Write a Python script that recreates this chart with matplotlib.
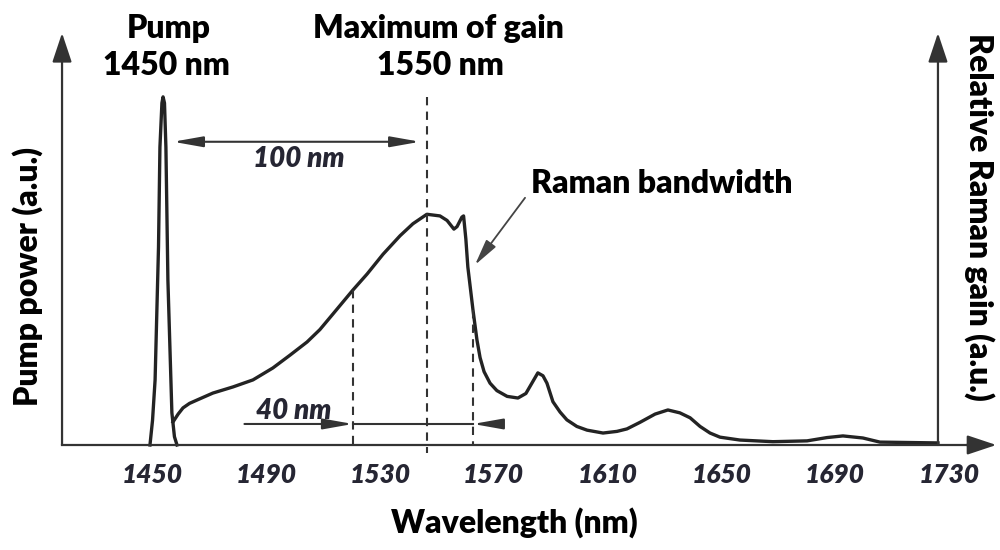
import matplotlib
matplotlib.use("Agg")
import matplotlib.pyplot as plt
from matplotlib.transforms import ScaledTranslation

# ---------------- data ----------------
pump_wl = [1453.1, 1454.0, 1454.9, 1456.1, 1456.6, 1457.3, 1457.7, 1458.2, 1458.7,
           1459.4, 1460.8, 1461.7, 1462.6]
pump_pw = [0.0, 0.060, 0.158, 0.481, 0.723, 0.830, 0.845, 0.830, 0.723,
           0.400, 0.078, 0.020, 0.0]

gain_wl = [1461.2, 1463.0, 1464.7, 1467.0, 1469.6, 1475.2, 1482.3, 1489.3, 1496.3,
           1502.3, 1508.3, 1512.8, 1517.4, 1524.4, 1529.4, 1535.0, 1541.0, 1545.5,
           1550.4, 1555.0, 1557.5, 1559.9, 1561.0, 1562.7, 1563.3, 1564.1, 1564.8,
           1566.6, 1568.0, 1569.1, 1570.5, 1572.6, 1575.0, 1578.6, 1582.4, 1585.2,
           1587.3, 1589.4, 1591.2, 1592.6, 1594.7, 1597.2, 1599.6, 1603.1, 1606.7,
           1612.3, 1617.2, 1620.7, 1625.3, 1630.6, 1635.1, 1639.3, 1642.9, 1646.4,
           1649.9, 1653.4, 1660.4, 1672.0, 1684.0, 1691.0, 1696.6, 1703.6, 1709.6,
           1730.0]
gain_val = [0.056, 0.075, 0.090, 0.101, 0.109, 0.126, 0.141, 0.158, 0.187,
            0.218, 0.250, 0.280, 0.318, 0.376, 0.415, 0.463, 0.508, 0.537,
            0.560, 0.556, 0.545, 0.524, 0.530, 0.553, 0.556, 0.500, 0.432,
            0.328, 0.255, 0.212, 0.178, 0.150, 0.132, 0.118, 0.114, 0.125,
            0.150, 0.175, 0.168, 0.150, 0.105, 0.080, 0.061, 0.045, 0.036,
            0.029, 0.033, 0.039, 0.055, 0.075, 0.085, 0.078, 0.066, 0.045,
            0.029, 0.019, 0.012, 0.008, 0.010, 0.018, 0.022, 0.017, 0.007,
            0.005]

tick_values = [1450, 1490, 1530, 1570, 1610, 1650, 1690, 1730]
tick_labels = ["1450", "1490", "1530", "1570", "1610", "1650", "1690", "1730"]

gain_max_wl = 1550.4
bw_low, bw_high = 1524.4, 1566.6
pump_wl_mark = 1461.2

# ---------------- style ----------------
DARK = "#333333"
CURVE = "#232323"
TXT = "#262633"
plt.rcParams['font.family'] = ['Lato', 'DejaVu Sans']
BIG = 23
W = 'heavy'

fig = plt.figure(figsize=(10, 5.5), dpi=100)
ax = fig.add_axes([0, 0, 1, 1])
ax.set_xlim(1400.4, 1751.8)
ax.set_ylim(-0.2549, 1.0801)

for s in ['top', 'left', 'right']:
    ax.spines[s].set_visible(False)
ax.spines['bottom'].set_position(('data', 0))
ax.spines['bottom'].set_bounds(1422.2, 1745)
ax.spines['bottom'].set_color(DARK)
ax.spines['bottom'].set_linewidth(1.6)
ax.set_yticks([])

# ticks: labels at majors, marks at minors
ax.set_xticks(tick_values)
ax.set_xticklabels(tick_labels)
ax.set_xticks(tick_values[1:], minor=True)
ax.tick_params(axis='x', which='major', length=0, pad=13, labelsize=19,
               labelcolor=TXT)
ax.tick_params(axis='x', which='minor', direction='inout', length=11, width=2.2,
               color=CURVE)
off = ScaledTranslation(0.11, 0, fig.dpi_scale_trans)
for lab in ax.get_xticklabels():
    lab.set_fontstyle('italic')
    lab.set_fontweight('heavy')
    lab.set_transform(lab.get_transform() + off)

# axes arrows
arr = dict(arrowstyle='-|>,head_length=0.9,head_width=0.3', color=DARK, lw=1.6,
           mutation_scale=20, shrinkA=0, shrinkB=0)
ax.annotate('', xy=(1422.2, 1.0), xytext=(1422.2, 0), arrowprops=arr)
ax.annotate('', xy=(1730.0, 1.0), xytext=(1730.0, 0), arrowprops=arr)
ax.annotate('', xy=(1750.5, 0), xytext=(1740, 0), arrowprops=arr)

# curves
ax.plot(pump_wl, pump_pw, color=CURVE, lw=2.4, solid_joinstyle='round')
ax.plot(gain_wl, gain_val, color=CURVE, lw=2.4, solid_joinstyle='round')

# dashed guide lines
dash = dict(color=DARK, lw=1.5, ls=(0, (4, 3)))
ax.plot([gain_max_wl, gain_max_wl], [0.845, -0.02], **dash)
ax.plot([bw_low, bw_low], [0.376, 0.0], **dash)
ax.plot([bw_high, bw_high], [0.328, 0.0], **dash)

small_head = '-|>,head_length=0.9,head_width=0.16'
# 100 nm arrow
ax.annotate('', xy=(pump_wl_mark, 0.736), xytext=(1548.0, 0.736),
            arrowprops=dict(arrowstyle='<|-|>,head_length=0.9,head_width=0.16',
                            color=DARK, lw=1.5, mutation_scale=20,
                            shrinkA=0, shrinkB=0))
ax.text(1505.5, 0.695, '100 nm', ha='center', va='center', fontsize=20,
        style='italic', fontweight='heavy', color=TXT)

# 40 nm arrows
ax.annotate('', xy=(bw_low, 0.051), xytext=(1486.3, 0.051),
            arrowprops=dict(arrowstyle=small_head, color=DARK, lw=1.5,
                            mutation_scale=20, shrinkA=0, shrinkB=0))
ax.plot([bw_low, bw_high], [0.051, 0.051], color=DARK, lw=1.5)
ax.annotate('', xy=(bw_high, 0.051), xytext=(1574.5, 0.051),
            arrowprops=dict(arrowstyle=small_head, color=DARK, lw=1.5,
                            mutation_scale=20, shrinkA=0, shrinkB=0))
ax.text(1503.7, 0.083, '40 nm', ha='center', va='center', fontsize=20,
        style='italic', fontweight='heavy', color=TXT)

# Raman bandwidth annotation
ax.annotate('', xy=(1567.3, 0.437), xytext=(1584.9, 0.600),
            arrowprops=dict(arrowstyle='-|>,head_length=0.8,head_width=0.18',
                            color='#444444', lw=1.3, mutation_scale=20,
                            shrinkA=0, shrinkB=0))
ax.text(1633.0, 0.635, 'Raman bandwidth', ha='center', va='center', fontsize=BIG,
        fontweight=W, color='black')

# top labels
ax.text(1459.6, 1.012, 'Pump', ha='center', va='center', fontsize=BIG,
        fontweight=W, color='black')
ax.text(1459.0, 0.920, '1450 nm', ha='center', va='center', fontsize=BIG,
        fontweight=W, color='black')
ax.text(1554.6, 1.012, 'Maximum of gain', ha='center', va='center', fontsize=BIG,
        fontweight=W, color='black')
ax.text(1555.0, 0.920, '1550 nm', ha='center', va='center', fontsize=BIG,
        fontweight=W, color='black')

# axis titles
ax.text(1581.0, -0.187, 'Wavelength (nm)', ha='center', va='center', fontsize=BIG,
        fontweight=W, color='black')
ax.text(1409.9, 0.410, 'Pump power (a.u.)', ha='center', va='center', fontsize=BIG,
        fontweight=W, color='black', rotation=90)
ax.text(1744.7, 0.553, 'Relative Raman gain (a.u.)', ha='center', va='center',
        fontsize=BIG, fontweight=W, color='black', rotation=-90)

fig.savefig('out.png', dpi=100)
